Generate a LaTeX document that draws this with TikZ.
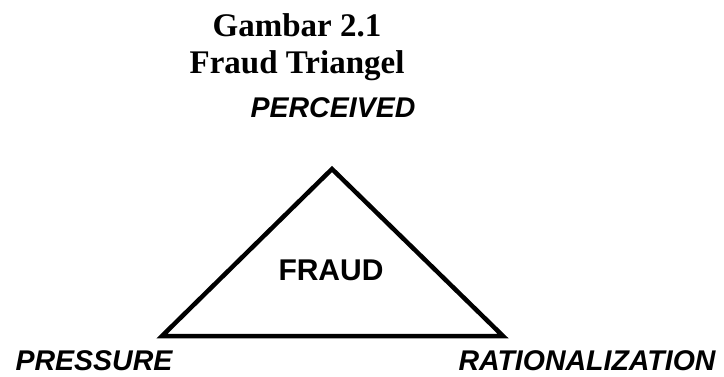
\documentclass[tikz,border=0pt]{standalone}
\usepackage{fontspec}
\setmainfont{Liberation Serif}
\setsansfont{Liberation Sans}
\usetikzlibrary{positioning}

\begin{document}
\begin{tikzpicture}[x=1pt,y=1pt,line width=4.5pt,line join=miter,
	title/.style={font=\fontsize{33}{37}\selectfont\bfseries,anchor=base},
	corner/.style={font=\fontsize{28.5}{34}\selectfont\sffamily\bfseries\itshape,anchor=base,inner sep=0pt},
	centre/.style={font=\fontsize{30}{34}\selectfont\sffamily\bfseries,anchor=base}]
		
		\useasboundingbox (0,0) rectangle (724,376);
		
		\coordinate (a) at (332,207);
		\coordinate (l) at (162,40);
		\coordinate (r) at (503,40);
		\draw (a) -- (l) -- (r) -- cycle;
		
		\node[title] (g1) at (297,339) {Gambar 2.1};
		\node[title] (g2) at (297,302) {Fraud Triangel};
		\node[corner] (pc) at (333,259) {PERCEIVED};
		\node[centre] (fr) at (331,96) {FRAUD};
		\node[corner] (pr) at (94,6) {PRESSURE};
		\node[corner] (ra) at (587,6) {RATIONALIZATION};
		\end{tikzpicture}
\end{document}
